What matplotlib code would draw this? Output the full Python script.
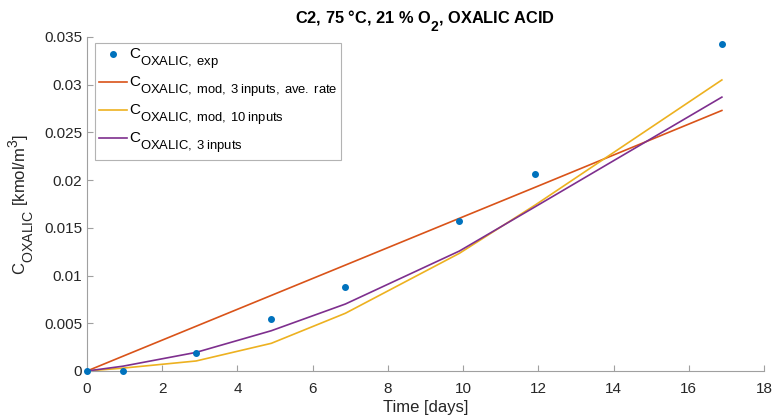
import numpy as np
import matplotlib
matplotlib.use('Agg')
import matplotlib.pyplot as plt
import matplotlib._mathtext as mt

plt.rcParams['font.family'] = ['Liberation Sans', 'DejaVu Sans']
plt.rcParams['mathtext.fontset'] = 'custom'
plt.rcParams['mathtext.rm'] = 'Liberation Sans'
plt.rcParams['mathtext.it'] = 'Liberation Sans'
plt.rcParams['mathtext.bf'] = 'Liberation Sans:bold'
# MATLAB style subscripts: bigger and lower than the mathtext default
mt.SHRINK_FACTOR = 0.85
mt.FontConstantsBase.sub1 = 0.95
mt.FontConstantsBase.sup1 = 0.8

# measured / model data
t_days = [0, 0.95, 2.9, 4.9, 6.87, 9.9, 11.92, 16.88]
c_exp = [0.0, 0.0, 0.00192, 0.00545, 0.00883, 0.01575, 0.0206, 0.03427]
c_ave = [0.0, 0.00154, 0.00469, 0.00792, 0.0111, 0.016, 0.01926, 0.0273]
c_10 = [0.0, 0.0003, 0.00105, 0.0029, 0.00605, 0.01233, 0.0174, 0.0305]
c_3 = [0.0, 0.0005, 0.00195, 0.00422, 0.00702, 0.01257, 0.01722, 0.0287]

labels = [r'C$_{\mathrm{OXALIC,\;exp}}$',
          r'C$_{\mathrm{OXALIC,\;mod,\;3\;inputs,\;ave.\;rate}}$',
          r'C$_{\mathrm{OXALIC,\;mod,\;10\;inputs}}$',
          r'C$_{\mathrm{OXALIC,\;3\;inputs}}$']

fig = plt.figure(figsize=(7.74, 4.18), dpi=100)
ax = fig.add_axes([87/774, 1 - 371/418, (764-87)/774, (371-37)/418])

ax.plot(t_days, c_exp, '.', color='#0072BD', markersize=8, label=labels[0], clip_on=False, zorder=5)
ax.plot(t_days, c_ave, color='#D95319', lw=1.2, label=labels[1])
ax.plot(t_days, c_10, color='#EDB120', lw=1.2, label=labels[2])
ax.plot(t_days, c_3, color='#7E2F8E', lw=1.2, label=labels[3])

ax.set_xlim(0, 18)
ax.set_ylim(0, 0.035)
ax.set_xticks(np.arange(0, 19, 2))
ax.set_yticks(np.arange(0, 0.0351, 0.005))
ax.set_yticklabels(['0', '0.005', '0.01', '0.015', '0.02', '0.025', '0.03', '0.035'])

for s in ['top', 'right']:
    ax.spines[s].set_visible(False)
for s in ['left', 'bottom']:
    ax.spines[s].set_color('#a0a0a0')
ax.tick_params(direction='in', length=4, colors='#a0a0a0', labelcolor='#262626', labelsize=11)
ax.tick_params(axis='x', pad=8)

ax.set_xlabel('Time [days]', fontsize=12, color='#262626', labelpad=3)
ax.set_ylabel(r'C$_{\mathrm{OXALIC}}$ [kmol/m$^{\mathrm{3}}$]', fontsize=12, color='#262626', labelpad=6)
ax.set_title(r'C2, 75 °C, 21 % O$_{\mathbf{2}}$, OXALIC ACID', fontsize=11.8, fontweight='bold', pad=10)

leg = ax.legend(loc='upper left', bbox_to_anchor=(0.0118, 0.982), fontsize=11, borderaxespad=0,
                frameon=True, fancybox=False, edgecolor='#a0a0a0',
                handlelength=1.85, handletextpad=0.1, labelspacing=0.2, borderpad=0.25)
leg.get_frame().set_linewidth(0.8)

fig.savefig('out.png', dpi=100)
